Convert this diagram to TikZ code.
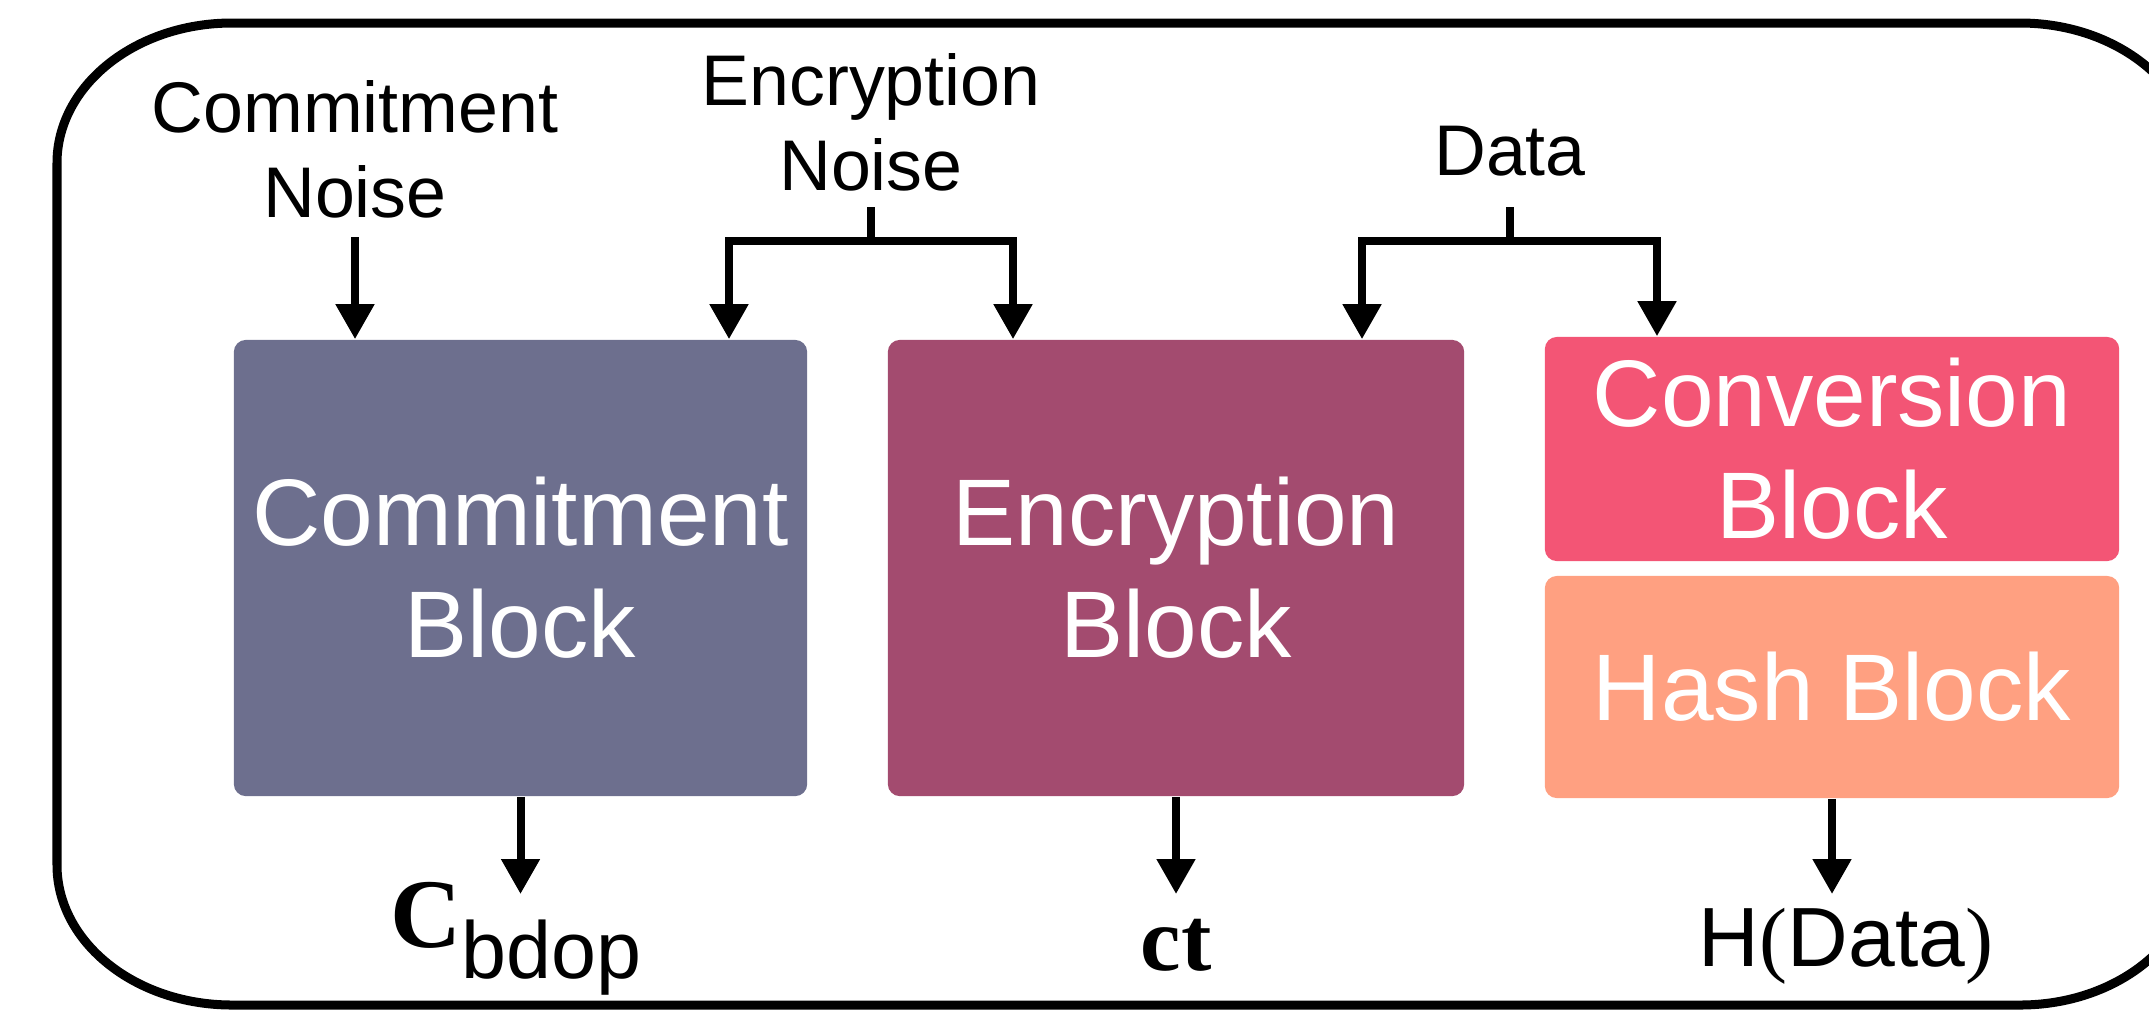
\documentclass[tikz,border=0pt]{standalone}
\usepackage{fontspec}
\setmainfont{Liberation Sans}
\newfontfamily\serifface{Liberation Serif}
\usetikzlibrary{arrows.meta}
\definecolor{commitc}{HTML}{6D6F8E}
\definecolor{encc}{HTML}{A34B6F}
\definecolor{convc}{HTML}{F35575}
\definecolor{hashc}{HTML}{FFA081}
\tikzset{
  blockbox/.style={rounded corners=1.2mm, inner sep=0, align=center, text=white,
    font=\fontsize{26.9}{31.9}\selectfont},
  toplabel/.style={inner sep=0, align=center, anchor=south,
    font=\fontsize{20.4}{24.2}\selectfont},
  outlabel/.style={inner sep=0, anchor=base},
  wire/.style={line width=0.08cm, line join=miter},
  arr/.style={wire, -{Triangle[length=0.35cm,width=0.37cm]}},
  frame/.style={line width=0.09cm}
}
\begin{document}
\begin{tikzpicture}[x=0.01cm,y=-0.01cm]
\useasboundingbox (0,0) rectangle (2149,1011);
\clip (0,0) rectangle (2149,1011);
% outer frame (elliptic corners, rx=175, ry=140)
\draw[frame] (232,23) -- (2020,23) .. controls (2116.7,23) and (2195,85.7) .. (2195,163)
  -- (2195,865) .. controls (2195,942.3) and (2116.7,1005) .. (2020,1005)
  -- (232,1005) .. controls (135.3,1005) and (57,942.3) .. (57,865)
  -- (57,163) .. controls (57,85.7) and (135.3,23) .. (232,23) -- cycle;
% blocks
\node[blockbox, fill=commitc, minimum width=5.73cm, minimum height=4.56cm] (cb) at (520.5,568) {Commitment\\Block};
\node[blockbox, fill=encc, minimum width=5.76cm, minimum height=4.56cm] (eb) at (1176,568) {Encryption\\Block};
\node[blockbox, fill=convc, minimum width=5.74cm, minimum height=2.24cm] (vb) at (1832,449) {Conversion\\Block};
\node[blockbox, fill=hashc, minimum width=5.74cm, minimum height=2.22cm] (hb) at (1832,687) {Hash Block};
% top labels
\node[toplabel] (cn) at (355,219) {Commitment\\Noise};
\node[toplabel] (en) at (871,192) {Encryption\\Noise};
\node[toplabel] (dn) at (1510,177) {Data};
% commitment noise
\draw[arr] ([yshift=-0.18cm]cn.south) -- (cn.south |- cb.north);
% encryption noise split
\coordinate (ej) at (871,241);
\coordinate (ejl) at (729,241);
\coordinate (ejr) at (1013,241);
\draw[wire] ([yshift=-0.15cm]en.south) -- (ej);
\draw[arr] (ej) -- (ejl) -- (ejl |- cb.north);
\draw[arr] (ej) -- (ejr) -- (ejr |- eb.north);
% data split
\coordinate (dj) at (1510,241);
\coordinate (djl) at (1362,241);
\coordinate (djr) at (1657,241);
\draw[wire] ([yshift=-0.30cm]dn.south) -- (dj);
\draw[arr] (dj) -- (djl) -- (djl |- eb.north);
\draw[arr] (dj) -- (djr) -- (djr |- vb.north);
% outputs
\coordinate (co) at (520.5,894);
\coordinate (eo) at (1176,894);
\coordinate (ho) at (1832,894);
\draw[arr] (cb.south) -- (co);
\draw[arr] (eb.south) -- (eo);
\draw[arr] (hb.south) -- (ho);
\node[outlabel] (cl) at (516,947) {\fontsize{28}{32}\serifface\bfseries C\lower9pt\hbox{\normalfont\fontsize{23}{27}\selectfont bdop}};
\node[outlabel] (ctl) at (1176,970) {\fontsize{25.9}{30}\serifface\bfseries ct};
\node[outlabel] (hl) at (1846,966) {\fontsize{23.9}{28}\selectfont H{\serifface(}Data{\serifface)}};
\end{tikzpicture}
\end{document}
